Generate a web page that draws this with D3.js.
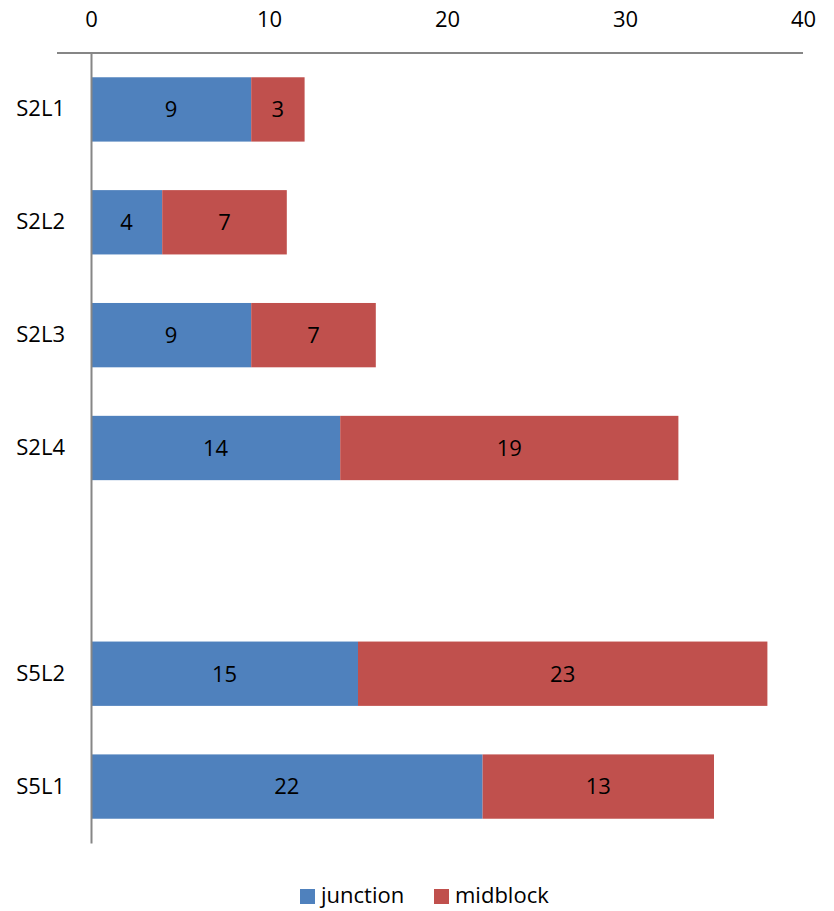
<!DOCTYPE html>
<html>
<head>
<meta charset="utf-8">
<script src="https://cdn.jsdelivr.net/npm/d3@7"></script>
<style>
  body { margin: 0; background: #fff; }
  svg text { font-family: "Open Sans", "Noto Sans", sans-serif; fill: #000; }
</style>
</head>
<body>
<svg id="chart" width="834" height="911"></svg>
<script>
// Sites, top to bottom; the blank entry leaves a gap between the S2 and S5 groups
const categories = ["S2L1", "S2L2", "S2L3", "S2L4", "", "S5L2", "S5L1"];
const junction = [9, 4, 9, 14, null, 15, 22];
const midblock = [3, 7, 7, 19, null, 23, 13];
const seriesNames = ["junction", "midblock"];
const seriesColors = ["#4F81BD", "#C0504D"];
const xTicks = [0, 10, 20, 30, 40];

const svg = d3.select("#chart");
const plotLeft = 91, plotRight = 803, plotTop = 53, plotBottom = 843;
const fontSize = 22;

const x = d3.scaleLinear().domain([0, 40]).range([plotLeft, plotRight]);
const y = d3.scaleBand().domain(d3.range(categories.length))
  .range([plotTop, plotBottom]).paddingInner(0.43).paddingOuter(0.215);

const rows = categories.map((c, i) => ({ cat: c, i, vals: [junction[i], midblock[i]] }))
  .filter(d => d.vals[0] != null);

// stacked segments with value labels
rows.forEach(d => {
  let start = 0;
  d.vals.forEach((v, s) => {
    svg.append("rect")
      .attr("x", x(start)).attr("y", y(d.i))
      .attr("width", x(start + v) - x(start)).attr("height", y.bandwidth())
      .attr("fill", seriesColors[s]);
    svg.append("text")
      .attr("x", (x(start) + x(start + v)) / 2)
      .attr("y", y(d.i) + y.bandwidth() / 2)
      .attr("dy", "0.36em").attr("text-anchor", "middle")
      .attr("font-size", fontSize).text(v);
    start += v;
  });
});

// value axis along the top
const xAxis = svg.append("g").attr("transform", `translate(0,${plotTop})`)
  .call(d3.axisTop(x).tickValues(xTicks).tickSize(0).tickPadding(26));
xAxis.select(".domain").attr("stroke", "#868686").attr("stroke-width", 2)
  .attr("d", `M${plotLeft - 34},0H${plotRight}`);
xAxis.selectAll("text").attr("font-size", fontSize).attr("fill", "#000");

// category axis on the left
const yAxis = svg.append("g").attr("transform", `translate(${plotLeft},0)`)
  .call(d3.axisLeft(y).tickFormat(i => categories[i]).tickSize(0).tickPadding(26));
yAxis.select(".domain").attr("stroke", "#868686").attr("stroke-width", 2);
yAxis.selectAll("text").attr("font-size", fontSize).attr("fill", "#000");

// legend
const legendX = [300, 434];
seriesNames.forEach((n, s) => {
  const g = svg.append("g").attr("transform", `translate(${legendX[s]},889)`);
  g.append("rect").attr("width", 15).attr("height", 15).attr("fill", seriesColors[s]);
  g.append("text").attr("x", 21).attr("y", 14)
    .attr("font-size", fontSize).text(n);
});
</script>
</body>
</html>
